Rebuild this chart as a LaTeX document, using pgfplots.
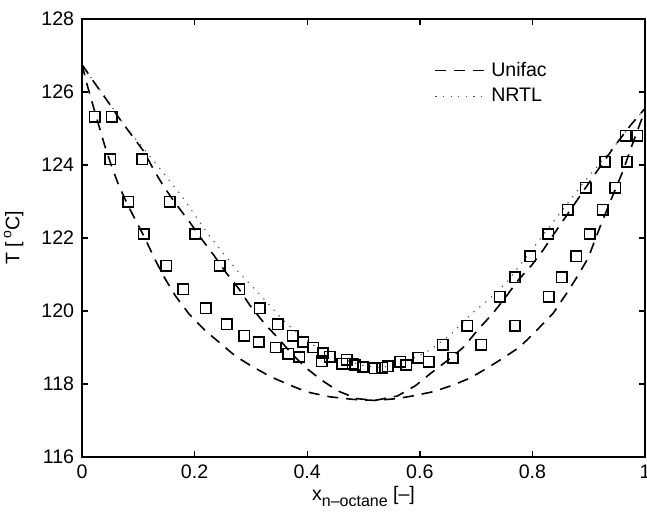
\documentclass[border=0pt]{standalone}
\usepackage{fontspec}
\setmainfont{Liberation Sans}
\usepackage{pgfplots}
\pgfplotsset{compat=1.18}

% Unifac, bubble branch (outer)
\pgfplotstableread{
x T
0 126.75
0.01 126.15
0.022 125.5
0.04 124.55
0.053 123.95
0.065 123.45
0.083 122.85
0.11 122.05
0.13 121.4
0.147 120.9
0.167 120.39
0.19 119.92
0.219 119.46
0.247 119.1
0.272 118.77
0.30 118.5
0.335 118.2
0.369 117.97
0.40 117.78
0.44 117.65
0.48 117.58
0.52 117.55
0.56 117.6
0.59 117.68
0.624 117.79
0.659 117.97
0.689 118.16
0.719 118.43
0.748 118.71
0.778 119.02
0.805 119.43
0.837 119.94
0.861 120.49
0.88 120.95
0.899 121.45
0.92 122.3
0.941 123.1
0.96 123.8
0.976 124.5
1.0 125.5
}\unibub

% Unifac, dew branch (inner)
\pgfplotstableread{
x T
0 126.75
0.025 126.19
0.044 125.78
0.066 125.28
0.09 124.78
0.11 124.37
0.128 123.85
0.146 123.39
0.167 122.93
0.192 122.42
0.213 121.96
0.234 121.53
0.257 121.03
0.279 120.6
0.298 120.16
0.325 119.64
0.347 119.28
0.372 118.84
0.398 118.44
0.426 118.1
0.456 117.8
0.488 117.6
0.52 117.55
0.56 117.67
0.592 117.95
0.62 118.3
0.654 118.7
0.677 119.0
0.703 119.48
0.73 119.94
0.751 120.35
0.775 120.85
0.799 121.26
0.819 121.67
0.84 122.15
0.86 122.6
0.88 123.05
0.90 123.5
0.92 123.95
0.95 124.6
0.975 125.1
1.0 125.55
}\unidew

\pgfplotstableread{
x T
0 126.75
0.015 126.42
0.0385 125.92
0.08 125.0
0.136 123.95
0.178 123.13
0.227 122.04
0.275 121.12
0.322 120.35
0.357 119.75
0.387 119.34
0.41 119.07
0.44 118.85
0.47 118.65
0.50 118.5
0.53 118.45
0.56 118.52
0.594 118.75
0.618 118.93
0.654 119.34
0.69 119.9
0.725 120.35
0.755 120.8
0.78 121.3
0.82 122.1
0.86 122.9
0.89 123.5
0.92 124.05
0.95 124.6
0.975 125.1
1.0 125.55
}\nrtl

% measured points
\pgfplotstableread{
x T
0.023 125.32
0.050 124.16
0.082 122.99
0.110 122.11
0.150 121.24
0.180 120.60
0.220 120.07
0.257 119.64
0.288 119.32
0.314 119.15
0.344 119.00
0.366 118.83
0.386 118.74
0.426 118.62
0.462 118.55
0.485 118.52
0.500 118.46
0.520 118.43
0.543 118.49
0.565 118.61
0.597 118.72
0.641 119.07
0.684 119.60
0.742 120.39
0.769 120.92
0.796 121.50
0.828 122.11
0.863 122.77
0.895 123.38
0.929 124.09
0.966 124.80
0.053 125.32
0.107 124.16
0.156 122.99
0.201 122.11
0.245 121.24
0.279 120.60
0.316 120.07
0.348 119.64
0.374 119.32
0.393 119.15
0.411 119.00
0.428 118.85
0.440 118.75
0.470 118.66
0.481 118.55
0.499 118.47
0.533 118.44
0.576 118.52
0.616 118.61
0.659 118.72
0.709 119.07
0.769 119.60
0.829 120.39
0.852 120.93
0.878 121.50
0.902 122.11
0.925 122.77
0.947 123.38
0.968 124.09
0.986 124.80
}\meas

\begin{document}
\fontsize{9.8}{11.5}\selectfont
\begin{tikzpicture}
\begin{axis}[
  width=281.5pt, height=219pt, scale only axis,
  xmin=0, xmax=1, ymin=116, ymax=128,
  xtick={0,0.2,0.4,0.6,0.8,1},
  xticklabels={0,0.2,0.4,0.6,0.8,1},
  ytick={116,118,120,122,124,126,128},
  tick align=inside,
  major tick length=3pt,
  axis line style={line width=0.9pt},
  every tick/.style={black, line width=0.7pt},
  tick label style={font=\fontsize{9.8}{11.5}\selectfont},
  /pgf/number format/assume math mode=true,
  xticklabel style={yshift=-0.3pt},
  yticklabel style={xshift=-0.5pt},
  xlabel={x\raisebox{-3pt}{\fontsize{8}{9}\selectfont n\textendash octane} [\textendash]},
  ylabel={T [\,\raisebox{4pt}{\fontsize{7}{8}\selectfont o}C]},
  xlabel style={at={(axis description cs:0.5,0)}, anchor=base, yshift=-21.5pt},
  ylabel style={at={(axis description cs:0,0.5)}, anchor=center, yshift=34.2pt},
  legend style={draw=none, fill=none, at={(0.615,0.921)}, anchor=north west,
    font=\fontsize{9.8}{11.5}\selectfont, row sep=0.5pt},
  legend cell align=left,
  legend image code/.code={\draw[#1] (0pt,0pt) -- (25.5pt,0pt);},
]
\addplot[black, line width=0.8pt, dash pattern=on 5.5pt off 4pt] table {\unibub};
\addlegendentry{Unifac}
\addplot[black!70, line width=0.55pt, dash pattern=on 0.6pt off 3.2pt] table {\nrtl};
\addlegendentry{NRTL}
\addplot[black, line width=0.8pt, dash pattern=on 5.5pt off 4pt, forget plot] table {\unidew};
\addplot[only marks, mark=square, mark size=2.6pt, mark options={black, line width=0.75pt}, forget plot] table {\meas};
\coordinate (sw) at (rel axis cs:0,0);
\coordinate (ne) at (rel axis cs:1,1);
\end{axis}
\pgfresetboundingbox
\path ([xshift=-41pt,yshift=-28pt]sw) rectangle ([xshift=1pt,yshift=9.5pt]ne);
\end{tikzpicture}
\end{document}
